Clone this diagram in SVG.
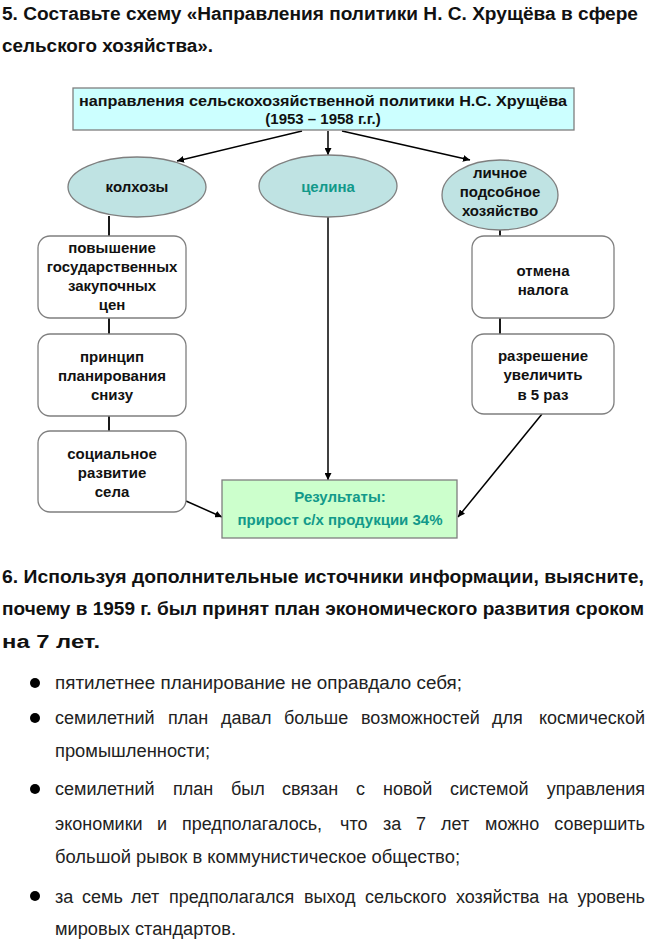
<svg xmlns="http://www.w3.org/2000/svg" width="648" height="940" viewBox="0 0 648 940">
<defs>
<marker id="ah" viewBox="0 0 10 10" refX="10" refY="5" markerWidth="7" markerHeight="7" markerUnits="userSpaceOnUse" orient="auto">
<path d="M0,0 L10,5 L0,10 z" fill="#000"/>
</marker>
<style>
.h{font-family:"Liberation Sans",Arial,sans-serif;font-weight:bold;font-size:17.5px;fill:#111}
.b{font-family:"Liberation Sans",Arial,sans-serif;font-size:18px;fill:#222}
.e{text-anchor:end}
.n{font-family:"Liberation Sans",Arial,sans-serif;font-weight:bold;font-size:15px;fill:#111;text-anchor:middle}
.t{fill:#12998a}
.box{fill:#fff;stroke:#7f7f7f;stroke-width:1.3}
.ell{fill:#bfe3e3;stroke:#7f7f7f;stroke-width:1.3}
.ln{stroke:#000;stroke-width:1.8;fill:none}
.ar{stroke:#000;stroke-width:1.5;fill:none;marker-end:url(#ah)}
</style>
</defs>
<rect width="648" height="940" fill="#fff"/>

<g id="heading5">
<text class="h" x="2" y="20" textLength="636" lengthAdjust="spacingAndGlyphs">5. Составьте схему «Направления политики Н. С. Хрущёва в сфере</text>
<text class="h" x="2" y="52" textLength="211" lengthAdjust="spacingAndGlyphs">сельского хозяйства».</text>
</g>

<g id="connectors">
<line class="ar" x1="302" y1="131" x2="177" y2="161"/>
<line class="ar" x1="328" y1="131" x2="328" y2="155"/>
<line class="ar" x1="342" y1="131" x2="470" y2="160"/>
<line class="ln" x1="109" y1="216" x2="109" y2="236"/>
<line class="ln" x1="109" y1="318" x2="109" y2="334"/>
<line class="ln" x1="109" y1="416" x2="109" y2="431"/>
<line class="ln" x1="500" y1="229" x2="500" y2="236"/>
<line class="ln" x1="500" y1="318" x2="500" y2="334"/>
<line class="ar" x1="328" y1="217" x2="328" y2="480"/>
<line class="ar" x1="186" y1="501" x2="222" y2="517"/>
<line class="ar" x1="542" y1="414" x2="458" y2="517"/>
</g>

<g id="top">
<rect x="73" y="88" width="501" height="42" fill="#ccffff" stroke="#7f7f7f" stroke-width="1.3"/>
<text class="n" x="323" y="106" textLength="488" lengthAdjust="spacingAndGlyphs">направления сельскохозяйственной политики Н.С. Хрущёва</text>
<text class="n" x="323" y="124">(1953 – 1958 г.г.)</text>
</g>

<g id="kolhozy">
<ellipse class="ell" cx="137" cy="187" rx="69" ry="30"/>
<text class="n" x="137" y="192">колхозы</text>
</g>
<g id="celina">
<ellipse class="ell" cx="328" cy="186" rx="69" ry="31"/>
<text class="n t" x="328" y="192">целина</text>
</g>
<g id="lichnoe">
<ellipse class="ell" cx="500" cy="195" rx="58" ry="35"/>
<text class="n" x="500" y="178">личное</text>
<text class="n" x="500" y="197">подсобное</text>
<text class="n" x="500" y="216">хозяйство</text>
</g>

<g id="l1">
<rect class="box" x="38" y="236" width="148" height="82" rx="12"/>
<text class="n" x="112" y="253">повышение</text>
<text class="n" x="112" y="272">государственных</text>
<text class="n" x="112" y="291">закупочных</text>
<text class="n" x="112" y="310">цен</text>
</g>
<g id="l2">
<rect class="box" x="38" y="334" width="148" height="82" rx="12"/>
<text class="n" x="112" y="362">принцип</text>
<text class="n" x="112" y="381">планирования</text>
<text class="n" x="112" y="400">снизу</text>
</g>
<g id="l3">
<rect class="box" x="38" y="431" width="148" height="81" rx="12"/>
<text class="n" x="112" y="459">социальное</text>
<text class="n" x="112" y="478">развитие</text>
<text class="n" x="112" y="497">села</text>
</g>
<g id="r1">
<rect class="box" x="472" y="236" width="142" height="82" rx="12"/>
<text class="n" x="543" y="276">отмена</text>
<text class="n" x="543" y="295">налога</text>
</g>
<g id="r2">
<rect class="box" x="472" y="334" width="142" height="80" rx="12"/>
<text class="n" x="543" y="361">разрешение</text>
<text class="n" x="543" y="380">увеличить</text>
<text class="n" x="543" y="400">в 5 раз</text>
</g>
<g id="result">
<rect x="222" y="480" width="235" height="58" fill="#ccffcc" stroke="#7f7f7f" stroke-width="1.3"/>
<text class="n t" x="340" y="502">Результаты:</text>
<text class="n t" x="340" y="525">прирост с/х продукции 34%</text>
</g>

<g id="heading6">
<text class="h" x="2" y="583" textLength="642" lengthAdjust="spacingAndGlyphs">6. Используя дополнительные источники информации, выясните,</text>
<text class="h" x="2" y="615" textLength="642" lengthAdjust="spacingAndGlyphs">почему в 1959 г. был принят план экономического развития сроком</text>
<text class="h" x="2" y="648" textLength="98" lengthAdjust="spacingAndGlyphs">на 7 лет.</text>
</g>

<g id="bullets">
<circle cx="35" cy="683" r="5" fill="#000"/>
<circle cx="35" cy="718" r="5" fill="#000"/>
<circle cx="35" cy="789" r="5" fill="#000"/>
<circle cx="35" cy="896" r="5" fill="#000"/>
<text class="b" x="55" y="689" textLength="407" lengthAdjust="spacingAndGlyphs">пятилетнее планирование не оправдало себя;</text>
<text class="b" y="724"><tspan x="55">семилетний</tspan> <tspan x="168">план</tspan> <tspan x="221">давал</tspan> <tspan x="284">больше</tspan> <tspan x="361">возможностей</tspan> <tspan x="492">для</tspan> <tspan class="e" x="645">космической</tspan></text>
<text class="b" x="55" y="757" textLength="155" lengthAdjust="spacingAndGlyphs">промышленности;</text>
<text class="b" y="795"><tspan x="55">семилетний</tspan> <tspan x="173">план</tspan> <tspan x="231">был</tspan> <tspan x="282">связан</tspan> <tspan x="356">с</tspan> <tspan x="383">новой</tspan> <tspan x="450">системой</tspan> <tspan class="e" x="645">управления</tspan></text>
<text class="b" y="830"><tspan x="55">экономики</tspan> <tspan x="157">и</tspan> <tspan x="182">предполагалось,</tspan> <tspan x="340">что</tspan> <tspan x="383">за</tspan> <tspan x="416">7</tspan> <tspan x="441">лет</tspan> <tspan x="485">можно</tspan> <tspan class="e" x="645">совершить</tspan></text>
<text class="b" x="55" y="863" textLength="405" lengthAdjust="spacingAndGlyphs">большой рывок в коммунистическое общество;</text>
<text class="b" y="903"><tspan x="55">за</tspan> <tspan x="82">семь</tspan> <tspan x="131">лет</tspan> <tspan x="169">предполагался</tspan> <tspan x="304">выход</tspan> <tspan x="365">сельского</tspan> <tspan x="456">хозяйства</tspan> <tspan x="548">на</tspan> <tspan class="e" x="645">уровень</tspan></text>
<text class="b" x="55" y="935" textLength="181" lengthAdjust="spacingAndGlyphs">мировых стандартов.</text>
</g>
</svg>
